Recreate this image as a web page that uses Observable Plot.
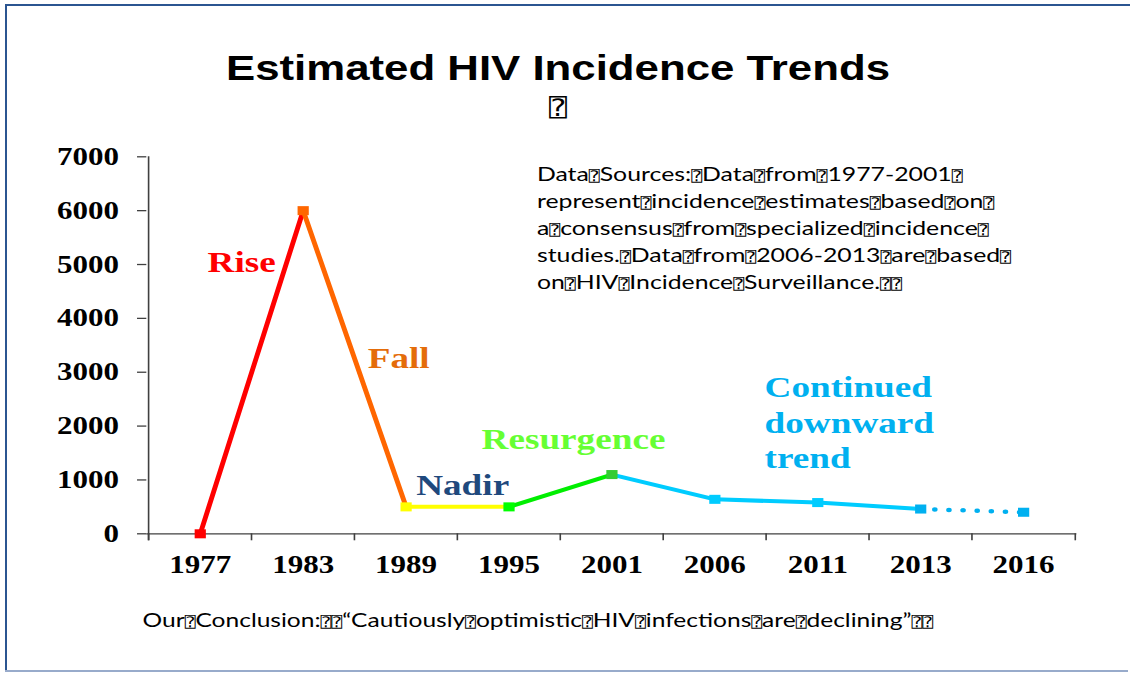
<!DOCTYPE html>
<html><head><meta charset="utf-8">
<script src="https://cdn.jsdelivr.net/npm/d3@7"></script>
<script src="https://cdn.jsdelivr.net/npm/@observablehq/plot@0.6"></script>
<style>
html,body{margin:0;padding:0;background:#fff;}
#page{position:relative;width:1130px;height:673px;overflow:hidden;background:#fff;}
#stage{position:absolute;left:0;top:0;width:911px;height:673px;transform:scaleX(1.24);transform-origin:0 0;}
.bt{position:absolute;left:5px;right:0;top:4px;height:2px;background:#2b5591;}
.bl{position:absolute;left:5px;top:4px;width:2px;height:667px;background:#2b5591;}
.bb{position:absolute;left:5px;right:2px;top:670px;height:2px;background:#98abcb;}
#title{position:absolute;left:0;top:50px;width:900px;text-align:center;font:bold 35.3px/35px "Liberation Sans",Arial,sans-serif;color:#000;white-space:nowrap;}
#qbox{position:absolute;left:0;top:96px;width:900px;text-align:center;font:24px/24px "DejaVu Sans Mono",monospace;color:#000;}
#chart{position:absolute;left:0;top:120px;}
#sources{position:absolute;left:433px;top:160px;font:20px/27px Lato,sans-serif;color:#000;white-space:nowrap;}
#sources div{height:27px;}
#conclusion{position:absolute;left:115px;top:609.5px;font:19.8px/19.8px Lato,sans-serif;color:#000;white-space:nowrap;}
.b{display:inline-block;width:0.61em;line-height:1em;vertical-align:baseline;font-family:"DejaVu Sans Mono",monospace;font-size:0.72em;white-space:nowrap;}
</style>
</head>
<body>
<div id="page">
  <div class="bt"></div><div class="bl"></div><div class="bb"></div>
  <div id="stage">
    <div id="title"></div>
    <div id="qbox"></div>
    <div id="chart"></div>
    <div id="sources"></div>
    <div id="conclusion"></div>
  </div>
</div>
<script>
// ---- data ----
const years = ["1977", "1983", "1989", "1995", "2001", "2006", "2011", "2013", "2016"];
const incidence = [0, 6000, 500, 500, 1100, 640, 580, 460, 400];
const markerColors = ["#ff0000", "#ff6600", "#ffff00", "#00ff00", "#33cc33", "#00ccff", "#00ccff", "#00b0f0", "#00b0f0"];
const phaseStart = [0, 1, 2, 3, 4, 7];
const phaseEnd = [1, 2, 3, 4, 7, 8];
const phaseColors = ["#ff0000", "#ff6600", "#ffff00", "#00ee00", "#00ccff", "#00b0f0"];
const phaseDotted = [false, false, false, false, false, true];
const yTicks = [0, 1000, 2000, 3000, 4000, 5000, 6000, 7000];
const phaseLabels = ["Rise", "Fall", "Nadir", "Resurgence", "Continued\ndownward\ntrend"];
const phaseLabelColors = ["#ff0000", "#e46c0a", "#1f497d", "#66ff33", "#00b0f0"];
const titleText = "Estimated HIV Incidence Trends";
const BOX = "\u2370";
const sourceLines = [
  "Data Sources: Data from 1977-2001 ",
  "represent incidence estimates based on ",
  "a consensus from specialized incidence ",
  "studies. Data from 2006-2013 are based ",
  "on HIV Incidence Surveillance.  "
];
const conclusionText = "Our Conclusion:  \u201CCautiously optimistic HIV infections are declining\u201D  ";

// ---- layout ----
const W = 911, H = 470, mL = 118, mR = 43, mT = 36.3, mB = 56.7;
const halfStep = (W - mL - mR) / years.length / 2;
const serif = "'Times New Roman', 'Liberation Serif', serif";
const labelLayout = [
  {dx: 76.4, dy: 103.7, anchor: "middle"},
  {dx: 203, dy: 199.7, anchor: "middle"},
  {dx: 254.6, dy: 326.7, anchor: "middle"},
  {dx: 344, dy: 280.7, anchor: "middle"},
  {dx: 498.1, dy: 264.7, anchor: "start"}
];

// ---- text blocks ----
document.getElementById("title").textContent = titleText;
document.getElementById("qbox").textContent = BOX;
function boxed(el, s) {
  s.split(" ").forEach((part, i, arr) => {
    if (part) el.appendChild(document.createTextNode(part));
    if (i < arr.length - 1) {
      const sp = document.createElement("span");
      sp.className = "b";
      sp.textContent = BOX;
      el.appendChild(sp);
    }
  });
}
const src = document.getElementById("sources");
sourceLines.forEach(line => {
  const d = document.createElement("div");
  boxed(d, line);
  src.appendChild(d);
});
boxed(document.getElementById("conclusion"), conclusionText);

// ---- chart ----
const points = years.map((year, i) => ({year, value: incidence[i], color: markerColors[i]}));
const segRows = phaseStart.flatMap((s, k) =>
  points.slice(s, phaseEnd[k] + 1).map(p => ({...p, phase: k, color: phaseColors[k]})));
const solidRows = segRows.filter(d => !phaseDotted[d.phase]);
const dottedRows = segRows.filter(d => phaseDotted[d.phase]);

const axisColor = "#404040";
const chart = Plot.plot({
  width: W, height: H,
  marginLeft: mL, marginRight: mR, marginTop: mT, marginBottom: mB,
  style: {background: "transparent", color: "#000", overflow: "visible"},
  x: {type: "point", domain: years, padding: 0.5, label: null},
  y: {domain: [0, 7000], label: null},
  color: {type: "identity"},
  marks: [
    Plot.ruleY([0], {stroke: axisColor, strokeWidth: 1.3}),
    Plot.ruleX([years[0]], {dx: -halfStep, stroke: axisColor, strokeWidth: 1.3, insetBottom: -7}),
    Plot.axisX({tickSize: 7, tickFormat: () => "", dx: -halfStep, stroke: axisColor, strokeWidth: 1.3}),
    Plot.axisX({ticks: [years[years.length - 1]], tickSize: 7, tickFormat: () => "", dx: halfStep, stroke: axisColor, strokeWidth: 1.3}),
    Plot.axisX({tickSize: 0, tickPadding: 21, fontSize: 25, fontWeight: "bold", fontFamily: serif, fill: "#000"}),
    Plot.axisY({ticks: yTicks, tickFormat: d => String(d), tickSize: 7.5, tickPadding: 15, fontSize: 25, fontWeight: "bold", fontFamily: serif, fill: "#000", stroke: axisColor, strokeWidth: 1.3}),
    Plot.line(solidRows, {x: "year", y: "value", z: "phase", stroke: "color", strokeWidth: 4}),
    Plot.line(dottedRows, {x: "year", y: "value", z: "phase", stroke: "color", strokeWidth: 4.5, strokeDasharray: "0 11.4", strokeLinecap: "round"}),
    Plot.dot(points, {x: "year", y: "value", fill: "color", symbol: "square", r: 5.1}),
    ...phaseLabels.map((t, i) => Plot.text([t], {
      frameAnchor: "top-left", dx: labelLayout[i].dx, dy: labelLayout[i].dy,
      textAnchor: labelLayout[i].anchor, lineAnchor: "middle", lineHeight: 1.183,
      fill: phaseLabelColors[i], fontSize: 30, fontWeight: "bold", fontFamily: serif
    }))
  ]
});
document.getElementById("chart").appendChild(chart);
</script>
</body></html>
